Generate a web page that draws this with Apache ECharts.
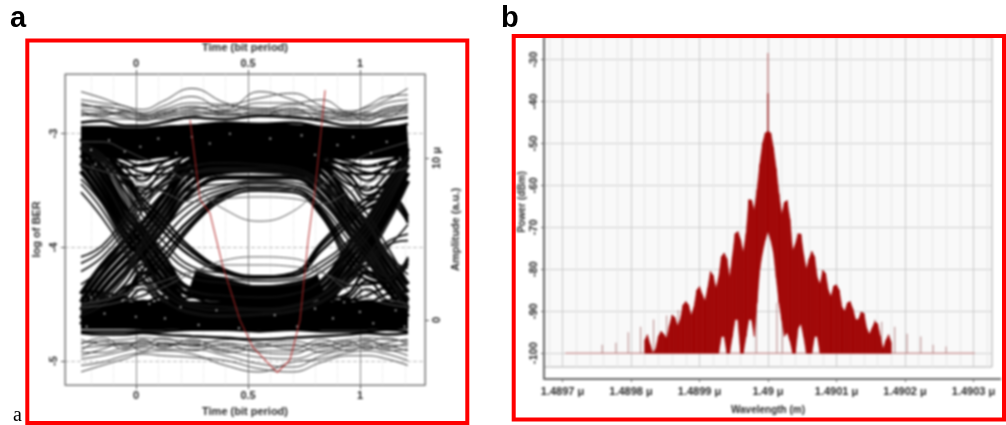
<!DOCTYPE html>
<html><head><meta charset="utf-8">
<style>html,body{margin:0;padding:0;background:#fff;overflow:hidden}
#c{position:absolute;left:0;top:0;width:1006px;height:425px;filter:blur(0.85px)}
#o{position:absolute;left:0;top:0;width:1006px;height:425px}</style>
<script src="https://cdn.jsdelivr.net/npm/echarts@6/dist/echarts.min.js"></script>
</head><body><div id="c"></div><div id="o"></div>
<script>
// ---------- panel a: eye diagram ----------
const eyeTime=[-0.245,-0.15,-0.05,0.03,0.12,0.25,0.4,0.55,0.7,0.83,0.95,1.03,1.12,1.215];
const eyeBundleHighA=[11.0,11.0,10.9,10.9,11.0,11.1,11.2,11.2,11.1,11.0,10.9,10.9,11.0,11.1];
const eyeBundleHighB=[null,null,null,null,null,9.4,9.8,9.9,9.75,9.4,null,null,null,null];
const eyeBundleLowA=[0.3,0.3,0.3,0.25,0.25,0.3,0.3,0.2,0.2,0.25,0.25,0.25,0.3,0.3];
const eyeBundleLowB=[null,null,null,null,null,2.4,1.8,1.4,1.6,2.1,null,null,null,null];
const eyeArmFall=[
[11.2,9.4,7.0,5.6,4.0,1.9,1.7,1.6,1.7,2.4,4.6,6.1,8.2,10.6],
[10.7,8.9,6.5,5.2,3.5,1.5,1.3,1.3,1.4,2.0,4.1,5.6,7.7,10.1],
[10.2,8.4,6.0,4.7,3.0,1.0,0.9,0.9,1.0,1.6,3.6,5.1,7.2,9.6],
[9.7,7.9,5.5,4.2,2.5,0.6,0.5,0.5,0.6,1.2,3.1,4.6,6.7,9.1],
[9.2,7.4,5.0,3.8,2.0,0.3,0.2,0.2,0.3,0.9,2.6,4.1,6.2,8.6]];
const eyeArmRise=[
[1.6,3.4,4.9,6.0,7.6,9.9,10.4,10.4,10.4,9.6,7.4,5.9,4.0,2.2],
[1.1,2.9,4.4,5.5,7.1,9.4,10.0,10.0,10.0,9.1,6.9,5.4,3.5,1.7],
[0.6,2.4,3.9,5.0,6.6,8.9,9.6,9.6,9.6,8.6,6.4,4.9,3.0,1.2],
[0.1,1.9,3.4,4.5,6.1,8.4,9.2,9.2,9.2,8.1,5.9,4.4,2.5,0.7],
[-0.3,1.4,2.9,4.0,5.6,7.9,8.8,8.8,8.8,7.6,5.4,3.9,2.0,0.2]];
const eyeLateRise=[
[0.4,0.9,1.8,2.8,3.9,6.0,7.7,8.2,8.1,6.6,3.9,2.8,2.5,3.7],
[0.2,0.8,1.6,3.1,4.4,6.3,7.8,8.2,8.1,6.8,4.3,3.1,2.6,3.8],
[0.6,1.0,2.0,2.5,3.5,5.8,7.5,8.0,7.9,6.4,3.5,2.5,2.3,3.5]];
const eyeLateFall=[
[10.6,10.3,8.8,7.2,5.9,4.2,3.0,2.65,2.75,4.6,6.2,7.2,7.6,6.2],
[10.5,10.0,8.6,6.9,5.5,3.9,2.9,2.6,2.7,4.3,5.9,6.9,7.3,6.0],
[10.7,10.4,9.0,7.5,6.3,4.4,3.1,2.7,2.9,4.8,6.5,7.5,7.9,6.4]];
const eyeRailHigh=[
[12.2,12.3,12.0,12.0,12.2,12.5,12.4,12.6,12.5,12.3,12.0,12.0,12.3,12.5],
[11.8,11.6,11.7,11.5,11.9,12.0,12.2,12.1,12.2,11.9,11.7,11.5,11.8,12.1],
[10.6,10.6,10.4,10.4,10.5,10.9,10.9,11.0,10.9,10.6,10.5,10.4,10.7,10.9],
[10.2,10.1,10.0,9.9,10.2,10.4,10.6,10.5,10.5,10.3,10.0,10.1,10.3,10.5],
[9.8,9.9,9.4,9.6,9.8,10.2,10.1,10.2,10.0,9.8,9.6,9.5,9.8,10.0],
[9.4,9.2,9.0,8.9,9.4,9.7,9.8,9.7,9.7,9.5,9.1,9.0,9.4,9.6]];
const eyeRailLow=[
[1.8,1.7,1.4,1.1,1.5,1.8,1.9,1.9,1.8,1.6,1.3,1.1,1.6,1.8],
[1.4,1.4,1.1,0.9,1.2,1.4,1.6,1.5,1.5,1.3,1.1,0.9,1.2,1.5],
[-0.4,-0.4,-0.4,-0.4,-0.3,-0.3,-0.2,-0.3,-0.3,-0.4,-0.4,-0.4,-0.3,-0.3],
[-0.7,-0.7,-0.7,-0.7,-0.7,-0.6,-0.6,-0.7,-0.6,-0.7,-0.7,-0.7,-0.6,-0.7],
[-0.8,-0.9,-0.9,-0.8,-0.9,-1.0,-1.1,-1.2,-1.1,-1.0,-0.9,-0.8,-0.9,-0.8]];
const eyeDipHigh=[
[11.2,10.4,8.8,7.4,8.6,10.0,10.6,10.7,10.5,9.8,8.6,7.4,8.6,10.2],
[10.8,10.0,9.0,8.0,9.2,10.2,10.8,10.7,10.6,9.9,8.9,8.0,9.0,10.4],
[10.4,9.8,8.4,8.2,8.0,9.8,10.4,10.5,10.3,9.7,8.4,8.2,8.2,10.0],
[10.9,10.6,9.4,8.6,9.7,10.5,10.9,10.9,10.7,10.2,9.3,8.6,9.6,10.6],
[9.8,9.5,9.0,7.8,8.5,9.9,10.3,10.4,10.2,9.6,9.0,7.7,8.4,9.8],
[11.0,10.2,9.6,9.1,9.0,10.4,10.7,10.8,10.4,10.0,9.5,9.1,9.0,10.3],
[10.6,9.8,8.0,6.8,7.8,9.6,10.2,10.3,10.0,9.4,8.0,6.9,7.9,9.9],
[10.9,10.5,9.9,9.5,9.8,10.3,10.6,10.6,10.5,10.2,9.8,9.5,9.7,10.5]];
const eyeDipLow=[
[-0.2,0.5,1.6,2.9,1.8,0.4,0,0,0.1,0.6,1.6,2.9,1.8,0.3],
[0.2,0.8,1.4,2.4,1.4,0.5,0.1,0.2,0.2,0.8,1.4,2.4,1.2,0.2],
[0.5,1.0,2.0,2.2,2.4,0.9,0.4,0.3,0.5,1.0,2.1,2.2,2.3,0.6],
[0,0.3,1.0,1.9,0.9,0.2,-0.1,0,-0.1,0.4,1.1,1.9,1.0,0],
[1.0,1.2,1.6,3.0,2.3,1.0,0.6,0.6,0.7,1.2,1.7,3.0,2.5,1.1],
[0.1,0.9,1.2,1.5,2.0,0.6,0.3,0.2,0.4,1.0,1.2,1.5,2.0,0.5],
[0.3,0.9,2.2,3.4,2.6,1.5,0.9,0.9,1.1,1.5,2.3,3.4,2.7,0.9],
[0,0.4,0.8,1.2,0.9,0.6,0.2,0.2,0.3,0.7,0.9,1.2,0.8,0.2]];
const eyeFall=[
[10.6,9.6,7.4,5.0,3.2,1.8,1.5,1.4,1.6,2.4,3.9,5.0,7.0,9.5],
[10.9,10.2,8.4,6.4,4.9,3.3,2.9,2.65,2.75,3.6,4.9,6.2,8.2,10.2],
[9.8,8.6,6.2,3.9,2.2,1.0,0.8,0.7,0.9,1.6,2.9,3.9,5.8,8.4],
[8.4,6.8,4.5,2.6,1.3,0.4,0.2,0.3,0.5,1.1,2.3,3.2,4.4,5.9],
[8.7,7.2,4.9,3.0,1.7,0.8,0.6,0.6,0.8,1.5,2.8,3.7,4.8,5.3],
[7.9,6.3,4.2,2.4,1.2,0.5,0.3,0.4,0.6,1.2,2.5,3.4,4.6,4.9],
[10.7,10.0,8.0,5.9,4.4,3.0,2.6,2.4,2.5,3.3,4.6,5.8,7.8,9.8],
[10.5,9.8,7.7,5.5,3.9,2.6,2.3,2.1,2.2,3.0,4.3,5.4,7.4,9.6]];
const eyeRise=[
[0.8,1.6,3.0,4.9,6.6,8.1,8.4,8.5,8.3,7.4,5.9,4.8,2.8,0.6],
[0.3,0.9,2.2,3.6,5.0,6.8,7.9,8.2,8.1,7.0,4.9,3.6,2.4,3.9],
[3.9,4.6,6.3,7.9,8.9,9.5,9.7,9.6,9.4,8.6,7.5,6.6,4.6,2.3],
[3.5,4.3,5.9,7.5,8.5,9.1,9.3,9.2,9.0,8.2,7.1,6.2,4.2,2.8],
[3.0,3.9,5.5,7.2,8.3,9.0,9.2,9.1,8.9,8.1,6.9,6.0,3.9,3.2],
[0.5,1.2,2.6,4.3,5.6,7.2,8.1,8.4,8.3,7.3,5.3,4.0,2.7,3.6],
[0.6,1.4,2.8,4.6,6.1,7.6,8.3,8.6,8.5,7.6,5.7,4.4,2.6,1.4],
[2.2,3.2,4.9,6.8,8.2,9.1,9.4,9.4,9.2,8.4,7.0,6.0,4.0,1.8]];
const eyeOuterHigh=[
[14.1,13.7,13.2,13.0,13.5,14.3,13.4,13.0,13.3,13.1,12.9,13.1,13.6,14.3],
[13.6,13.4,13.2,12.8,13.2,13.8,13.0,14.1,13.6,12.9,12.8,13.2,13.8,13.9],
[13.3,13.1,13.0,12.7,13.0,13.4,13.3,13.7,14.0,13.2,12.7,12.9,13.4,13.6],
[13.0,12.9,12.7,12.5,12.9,13.1,12.9,13.4,13.4,13.6,12.8,12.7,13.1,13.3],
[12.8,12.7,12.8,12.6,12.7,13.0,13.2,13.1,13.0,12.9,12.6,12.6,12.9,13.1],
[12.6,12.8,12.5,12.4,12.6,12.8,12.9,13.0,12.8,12.7,12.5,12.4,12.7,12.9],
[13.4,13.0,12.6,12.3,12.5,12.7,12.7,12.8,12.9,12.6,12.3,12.5,13.0,13.2],
[12.9,12.6,12.9,12.7,12.4,12.6,12.8,12.7,12.7,12.8,12.7,12.3,12.8,13.0],
[13.2,13.2,12.9,12.6,12.8,12.9,12.6,12.9,12.6,12.5,12.6,12.8,12.6,12.8],
[12.7,12.5,12.4,12.4,12.7,13.2,12.7,12.6,13.1,12.4,12.4,12.6,12.5,13.4]];
const eyeOuterLow=[
[-3.2,-2.8,-2.4,-2.1,-2.2,-2.3,-2.5,-3.0,-3.2,-2.6,-2.2,-2.2,-2.4,-2.8],
[-2.8,-2.6,-2.2,-2.0,-1.9,-2.1,-2.8,-3.2,-2.6,-2.4,-2.0,-1.9,-2.1,-2.5],
[-2.4,-2.2,-1.9,-1.7,-1.8,-1.8,-2.2,-2.7,-2.9,-2.2,-1.8,-1.7,-1.8,-2.2],
[-2.0,-2.0,-1.7,-1.6,-1.5,-1.6,-1.9,-2.3,-2.4,-1.9,-1.6,-1.5,-1.6,-1.9],
[-1.7,-1.6,-1.5,-1.3,-1.4,-1.5,-1.6,-1.9,-1.9,-1.7,-1.4,-1.3,-1.5,-1.6],
[-1.4,-1.3,-1.2,-1.1,-1.2,-1.3,-1.4,-1.6,-1.6,-1.4,-1.2,-1.1,-1.2,-1.3],
[-1.2,-1.5,-1.4,-1.5,-1.1,-1.6,-1.2,-1.4,-1.8,-1.2,-1.6,-1.4,-1.1,-1.5],
[-1.9,-1.3,-1.8,-1.2,-1.7,-1.2,-1.8,-1.5,-1.3,-1.6,-1.3,-1.8,-1.4,-1.2],
[-2.2,-1.8,-1.4,-1.9,-1.4,-1.9,-1.5,-2.0,-2.1,-1.5,-1.9,-1.6,-1.9,-1.8],
[-1.5,-1.1,-1.6,-1.4,-1.6,-1.4,-2.0,-1.7,-1.5,-2.0,-1.5,-1.2,-1.7,-1.4]];
const eyeInner=[
[11.0,11.0,10.5,10.0,9.5,8.3,6.8,6.1,6.7,8.3,9.6,10.2,10.6,11.0],
[0.8,0.9,1.2,1.5,2.0,2.9,3.7,3.9,3.8,3.0,1.8,1.4,1.0,0.8],
[1.0,1.2,1.6,2.0,2.4,3.0,3.4,3.4,3.3,2.9,2.2,1.8,1.3,1.0],
[9.6,9.2,8.8,8.4,7.9,7.3,7.5,7.6,7.5,7.2,7.9,8.4,9.0,9.4]];
// small holes left between the traces: [time, amplitude]
const eyeGaps=[[-0.2,10.5],[-0.12,11.1],[-0.05,10.4],[0.02,10.7],[0.1,11.2],[0.18,10.3],[-0.18,9.6],[0.07,9.8],[0.25,11.3],[0.33,10.9],[0.42,11.5],[0.6,11.2],[0.74,11.4],[0.8,10.2],[0.9,10.8],[0.97,11.3],[1.05,10.3],[1.12,11],[1.18,9.9],[1.08,9.6],[0.03,8.9],[0.0,8.3],[0.06,8.6],[0.99,8.7],[1.04,8.2],[-0.2,1.4],[-0.14,0.4],[-0.06,1.2],[0,0.2],[0.06,1],[0.13,0.1],[0.2,0.8],[0.28,-0.3],[0.36,0.6],[0.46,-0.5],[0.62,0.3],[0.72,-0.4],[0.8,0.7],[0.88,0.1],[0.93,1.1],[1,0.5],[1.06,-0.2],[1.1,1.3],[1.16,0.6],[1.2,-0.4],[-0.22,-0.4],[0.03,1.7],[1.02,1.6]];
const berTime=[0.241,0.286,0.33,0.388,0.464,0.522,0.63,0.6875,0.732,0.768,0.80,0.821,0.844];
const berValue=[-2.88,-3.58,-3.70,-4.17,-4.64,-4.88,-5.10,-4.99,-4.64,-3.94,-3.47,-3.08,-2.62];
const timeTicks=[0,0.5,1];
const berTicks=[-3,-4,-5];
const ampTicks=[0,10];
const eyeMinorGrid=[-0.2,-0.1,0.1,0.2,0.3,0.4,0.6,0.7,0.8,0.9,1.1,1.2];

// ---------- panel b: optical spectrum ----------
// wavelength offset from 1.49 um, in 1e-6 um
const specOffset=[-180,-176,-172,-168,-164,-160,-156,-152,-148,-144,-140,-136,-132,-128,-124,-120,-116,-112,-108,-104,-100,-96,-92,-88,-84,-80,-76,-72,-68,-64,-60,-56,-52,-48,-44,-40,-36,-32,-28,-24,-20,-16,-12,-8,-4,0,4,8,12,16,20,24,28,32,36,40,44,48,52,56,60,64,68,72,76,80,84,88,92,96,100,104,108,112,116,120,124,128,132,136,140,144,148,152,156,160,164,168,172,176,180];
const specHigh=[-97,-95.6,-98,-100,-99,-96,-94.8,-95.5,-96.5,-93.5,-90.9,-91.5,-93.5,-92,-88.5,-87.7,-88.5,-91,-89,-85,-84.1,-86,-87.5,-84.5,-80.5,-81.5,-84.5,-82,-77,-76.1,-77.5,-82,-77,-71.5,-71,-73,-76,-71.5,-63.4,-63.5,-66,-61,-55,-50,-47.5,-47,-47.5,-51,-56,-62,-67,-64,-63.6,-68,-75.5,-74,-71.5,-71.6,-76.5,-80,-77.5,-75.7,-77,-82,-83.5,-80.2,-81,-85,-86.5,-84,-83.7,-85,-89,-90,-88,-87.7,-89.5,-92,-92,-90.2,-90.5,-94,-95.5,-94,-92.5,-93,-96,-99,-97,-95.6,-97.5];
const specLow=[-100,-100,-100,-100,-100,-100,-100,-100,-100,-100,-100,-100,-100,-100,-100,-100,-100,-100,-100,-100,-100,-100,-100,-100,-100,-100,-100,-100,-96,-96,-100,-100,-96,-92,-92,-100,-100,-96,-92,-92,-96,-88,-80,-76,-73,-71,-73,-76,-82,-88,-92,-96,-95,-97,-100,-100,-94,-93,-96,-100,-100,-100,-96,-96,-100,-100,-100,-100,-100,-100,-100,-100,-100,-100,-100,-100,-100,-100,-100,-100,-100,-100,-100,-100,-100,-100,-100,-100,-100,-100,-100];
const spikeOffset=[-242,-222,-204,-186,-167,-148,-131,-17,13,21,156,166,185,203,223,241,260];
const spikeTop=[-98,-97.5,-95,-93.7,-92,-91,-89.7,-89,-88,-90,-92,-92.5,-93.7,-95.4,-96,-98,-98.4];
const carrierOffset=[0,0];
const carrierLevel=[-47,-28.4];
const carrierCoreLevel=[-47,-38];
const noiseFloorOffset=[-296,302];
const noiseFloorLevel=[-100,-100];
const waveTicks=[-300,-200,-100,0,100,200,300];
const waveLabels=['1.4897 μ','1.4898 μ','1.4899 μ','1.49 μ','1.4901 μ','1.4902 μ','1.4903 μ'];
const powerTicks=[-30,-40,-50,-60,-70,-80,-90,-100];
const waveMinorGrid=[-320,-280,-260,-240,-220,-180,-160,-140,-120,-80,-60,-40,-20,20,40,60,80,120,140,160,180,220,240,260,280,320];

const font='"Liberation Sans",Arial,sans-serif';
const ink='#2a2a2a';
function trace(v,width,color){return {type:'line',xAxisIndex:3,yAxisIndex:3,z:3,data:eyeTime.map((t,i)=>[t,v[i]]),smooth:0.45,showSymbol:false,silent:true,connectNulls:false,lineStyle:{width:width,color:color}};}
const eyeSeries=[].concat(
 eyeOuterHigh.map(v=>trace(v,1,'#333')),
 eyeOuterLow.map(v=>trace(v,1,'#333')),
 [trace(eyeBundleHighA,32,'#000'),trace(eyeBundleHighB,26,'#000'),trace(eyeBundleLowA,28,'#000'),trace(eyeBundleLowB,24,'#000')],
 eyeArmFall.map(v=>trace(v,4.5,'#000')),
 eyeArmRise.map(v=>trace(v,4.5,'#000')),
 eyeLateFall.map(v=>trace(v,2.4,'#000')),
 eyeLateRise.map(v=>trace(v,2.4,'#000')),
 eyeRailHigh.map(v=>trace(v,2.5,'#000')),
 eyeRailLow.map(v=>trace(v,2.5,'#000')),
 eyeDipHigh.map(v=>trace(v,2.1,'#000')),
 eyeDipLow.map(v=>trace(v,2.1,'#000')),
 eyeFall.map(v=>trace(v,1.7,'#111')),
 eyeRise.map(v=>trace(v,1.7,'#111')),
 eyeInner.map(v=>trace(v,1,'#555'))
);
eyeSeries.push({type:'scatter',xAxisIndex:3,yAxisIndex:3,z:4,data:eyeGaps,symbolSize:2.2,silent:true,itemStyle:{color:'#d8d8d8'}});
eyeSeries.push({type:'line',xAxisIndex:0,yAxisIndex:0,z:5,data:berTime.map((t,i)=>[t,berValue[i]]),showSymbol:false,silent:true,lineStyle:{width:1.1,color:'rgba(180,40,40,0.9)'}});
eyeSeries.push({type:'line',xAxisIndex:0,yAxisIndex:0,z:1,data:[],showSymbol:false,silent:true,
 markLine:{z:1,silent:true,symbol:'none',label:{show:false},lineStyle:{color:'#ddd',width:0.8,type:'dotted'},data:eyeMinorGrid.map(x=>({xAxis:x}))}});

function rectSeries(data,color,z){
 return {type:'custom',xAxisIndex:2,yAxisIndex:2,silent:true,z:z,clip:true,data:data,encode:{x:0,y:[1,2]},
  renderItem(params,api){
   const a=api.coord([api.value(0),api.value(2)]);
   const b=api.coord([api.value(0),api.value(1)]);
   return {type:'rect',shape:{x:a[0]-0.5,y:a[1],width:1,height:Math.max(b[1]-a[1],0.5)},style:{fill:color}};
  }};
}
const specRows=specOffset.map((x,i)=>[x,specLow[i],specHigh[i]]);
const spikeRows=spikeOffset.map((x,i)=>[x,-100,spikeTop[i]]);
const specSeries={type:'custom',xAxisIndex:2,yAxisIndex:2,silent:true,z:4,clip:true,data:specRows,encode:{x:0,y:[1,2]},
 renderItem(params,api){
  const i=params.dataIndex; if(i+1>=specRows.length) return null;
  const n=specRows[i+1], c=specRows[i];
  if(c[2]<=-100&&n[2]<=-100) return null;
  return {type:'polygon',shape:{points:[api.coord([c[0],c[2]]),api.coord([n[0],n[2]]),api.coord([n[0],n[1]]),api.coord([c[0],c[1]])]},style:{fill:'#a00505',stroke:'#a00505',lineWidth:0.5}};
 }};

const grids=[{left:65,top:74,width:360,height:311,show:true,borderColor:'#777',borderWidth:1,backgroundColor:'#fff'},
 {left:544,top:37,width:448,height:330,show:true,borderColor:'#aaa',borderWidth:1,backgroundColor:'#f9f9f9'},
 {left:81,top:74,width:327,height:311,show:false}];
const timeAxis=(pos,nameGap)=>({type:'value',gridIndex:0,position:pos,min:-0.317,max:1.29,name:'Time (bit period)',nameLocation:'middle',nameGap:nameGap,
  nameTextStyle:{fontFamily:font,fontWeight:'bold',fontSize:11,color:ink},
  axisLine:{show:true,onZero:false,lineStyle:{color:'#777'}},axisTick:{show:true,customValues:timeTicks,length:4,lineStyle:{color:'#555'}},
  axisLabel:{customValues:timeTicks,fontFamily:font,fontWeight:'bold',fontSize:11,color:ink,margin:5,formatter:v=>String(v),showMinLabel:true,showMaxLabel:true},
  splitLine:{show:pos==='bottom',lineStyle:{color:'#888',width:1}}});
const option={animation:false,backgroundColor:'#fff',grid:grids,
 graphic:[
  {type:'line',shape:{x1:544,y1:367,x2:544,y2:379},style:{stroke:'#666',lineWidth:2}},
  {type:'line',shape:{x1:992,y1:379,x2:1001,y2:379},style:{stroke:'#666',lineWidth:2}}
 ],
 xAxis:[timeAxis('bottom',21),timeAxis('top',20),
  {type:'value',gridIndex:1,min:-327,max:327,offset:12,name:'Wavelength (m)',nameLocation:'middle',nameGap:26,
   nameTextStyle:{fontFamily:font,fontWeight:'bold',fontSize:10,color:ink},
   axisLine:{show:true,onZero:false,lineStyle:{color:'#666',width:2}},axisTick:{show:true,customValues:waveTicks,length:3,lineStyle:{color:'#666'}},
   axisLabel:{customValues:waveTicks,fontFamily:font,fontWeight:'bold',fontSize:11,color:ink,margin:7,hideOverlap:false,formatter:v=>waveLabels[waveTicks.indexOf(v)]},
   splitLine:{show:true,lineStyle:{color:'#c9c9c9',width:1}}},
  {type:'value',gridIndex:2,show:false,min:-0.245,max:1.215}],
 yAxis:[{type:'value',gridIndex:0,position:'left',min:-5.21,max:-2.477,name:'log of BER',nameLocation:'middle',nameGap:23,
   nameTextStyle:{fontFamily:font,fontWeight:'bold',fontSize:11,color:ink},
   axisLine:{show:true,onZero:false,lineStyle:{color:'#777'}},axisTick:{show:true,customValues:berTicks,length:4,lineStyle:{color:'#555'}},
   axisLabel:{customValues:berTicks,rotate:90,fontFamily:font,fontWeight:'bold',fontSize:11,color:ink,margin:6,formatter:v=>String(v)},
   splitLine:{show:true,lineStyle:{color:'#bbb',type:'dashed'}}},
  {type:'value',gridIndex:0,position:'right',min:-4.01,max:15.19,name:'Amplitude (a.u.)',nameLocation:'middle',nameGap:25,
   nameTextStyle:{fontFamily:font,fontWeight:'bold',fontSize:11,color:ink},
   axisLine:{show:true,onZero:false,lineStyle:{color:'#777'}},axisTick:{show:true,customValues:ampTicks,length:4,lineStyle:{color:'#555'}},
   axisLabel:{customValues:ampTicks,rotate:90,fontFamily:font,fontWeight:'bold',fontSize:11,color:ink,margin:6,formatter:v=>v===10?'10 μ':String(v)},
   splitLine:{show:false}},
  {type:'value',gridIndex:1,min:-103.3,max:-24.6,name:'Power (dBm)',nameLocation:'middle',nameGap:15,
   nameTextStyle:{fontFamily:font,fontWeight:'bold',fontSize:10,color:ink},
   axisLine:{show:true,onZero:false,lineStyle:{color:'#666',width:2}},axisTick:{show:true,customValues:powerTicks,length:3,lineStyle:{color:'#666'}},
   axisLabel:{customValues:powerTicks,rotate:90,fontFamily:font,fontWeight:'bold',fontSize:11,color:ink,margin:5,formatter:v=>String(v)},
   splitLine:{show:true,lineStyle:{color:'#cfcfcf',width:1}}},
  {type:'value',gridIndex:2,show:false,min:-4.01,max:15.19}],
 series:eyeSeries.concat([
  {type:'line',xAxisIndex:2,yAxisIndex:2,z:2,data:noiseFloorOffset.map((x,i)=>[x,noiseFloorLevel[i]]),showSymbol:false,silent:true,lineStyle:{width:1,color:'#c47a7a'},
   markLine:{z:1,silent:true,symbol:'none',label:{show:false},lineStyle:{color:'#e6e6e6',width:1,type:'solid'},data:waveMinorGrid.map(x=>({xAxis:x}))}},
  rectSeries(spikeRows,'#b58585',3),
  specSeries,
  {type:'line',xAxisIndex:2,yAxisIndex:2,z:5,data:carrierOffset.map((x,i)=>[x,carrierLevel[i]]),showSymbol:false,silent:true,lineStyle:{width:1.4,color:'#c08080'}},
  {type:'line',xAxisIndex:2,yAxisIndex:2,z:5,data:carrierOffset.map((x,i)=>[x,carrierCoreLevel[i]]),showSymbol:false,silent:true,lineStyle:{width:2,color:'#aa5050'}}
 ])};
echarts.init(document.getElementById('c'),null,{renderer:'canvas'}).setOption(option);

const frameLeft={x:27.3,y:40.5,width:440,height:382.5};
const frameRight={x:513.7,y:36,width:490.3,height:383.5};
const overlay=echarts.init(document.getElementById('o'),null,{renderer:'canvas'});
overlay.setOption({animation:false,graphic:[
 {type:'rect',shape:frameLeft,style:{fill:'none',stroke:'#ff0000',lineWidth:4}},
 {type:'rect',shape:frameRight,style:{fill:'none',stroke:'#ff0000',lineWidth:4}},
 {type:'text',x:10,y:33,style:{text:'a',font:'bold 29px '+font,fill:'#000',textVerticalAlign:'bottom'}},
 {type:'text',x:501,y:33,style:{text:'b',font:'bold 29px '+font,fill:'#000',textVerticalAlign:'bottom'}},
 {type:'text',x:13,y:426,style:{text:'a',font:'20px "Liberation Serif",serif',fill:'#000',textVerticalAlign:'bottom'}}
]});
</script></body></html>
